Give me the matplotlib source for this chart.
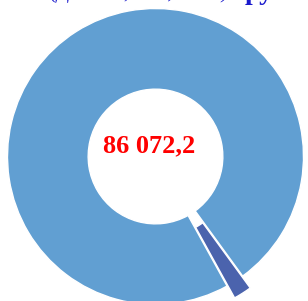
import matplotlib
matplotlib.use("Agg")
import matplotlib.pyplot as plt

# Data
categories = ["Основная часть", "Прочие"]
values = [86072.2, 1750.0]
center_label = "86 072,2"
title_left = "(Доходы, млн, тыс.)"
title_right = "руб."
colors = ["#619fd2", "#4b63ad"]

W, H = 308, 301
fig = plt.figure(figsize=(W / 100, H / 100), dpi=100)
ax = fig.add_axes([0, 0, 1, 1])

R = 148.0
cx, cy = 155.5, 156.5  # pixel center (from top-left)

total = sum(values)
small_frac = values[1] / total
mid_small = -57.5
start = mid_small - 180.0 * small_frac
ax.pie(values, colors=colors, radius=1.0, startangle=start,
       counterclock=False, explode=[0, 0.095],
       wedgeprops=dict(width=0.545, edgecolor="white", linewidth=1.0))

ax.set_xlim(-cx / R, (W - cx) / R)
ax.set_ylim(-(H - cy) / R, cy / R)
ax.set_aspect("equal")
ax.set_axis_off()

ax.text(-0.045, 0.075, center_label, ha="center", va="center", color="#ff0000",
        fontsize=19, fontweight="bold", family="Liberation Serif")

fig.text(50 / W, 1.006, title_left, ha="left", va="baseline", color="#1a1acc",
         fontsize=15, fontstyle="italic", family="Liberation Serif")
fig.text(245 / W, 1.004, title_right, ha="left", va="baseline", color="#1a1acc",
         fontsize=20, fontweight="bold", family="Liberation Serif")

fig.savefig("out.png", dpi=100)
